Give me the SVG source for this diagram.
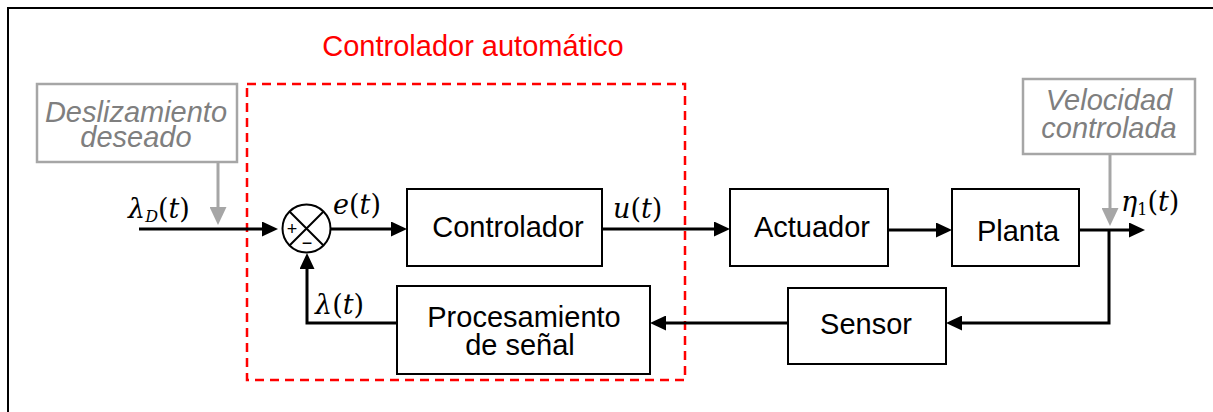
<svg xmlns="http://www.w3.org/2000/svg" width="1213" height="412" viewBox="0 0 1213 412">
<style>
.box{fill:#fff;stroke:#000;stroke-width:2}
.gbox{fill:#fff;stroke:#a6a6a6;stroke-width:2.5}
.lbl{font-family:"Liberation Sans",Arial,sans-serif;font-size:29px;fill:#000;text-anchor:middle}
.glbl{font-family:"Liberation Sans",Arial,sans-serif;font-size:29px;font-style:italic;fill:#7f7f7f;text-anchor:middle}
.math{font-family:"DejaVu Serif","Liberation Serif",serif;font-size:27px;fill:#000}
.conn{fill:none;stroke:#000;stroke-width:3}
.gconn{fill:none;stroke:#a6a6a6;stroke-width:3}
</style>
<defs>
<marker id="arr" markerUnits="userSpaceOnUse" markerWidth="16" markerHeight="15" refX="4" refY="7.5" orient="auto">
<path d="M0,0 L16,7.5 L0,15 z" fill="#000"/>
</marker>
<marker id="garr" markerUnits="userSpaceOnUse" markerWidth="18" markerHeight="17" refX="5" refY="8.5" orient="auto">
<path d="M0,0 L18,8.5 L0,17 z" fill="#a6a6a6"/>
</marker>
</defs>
<rect x="0" y="0" width="1213" height="412" fill="#fff"/>
<rect x="8" y="8" width="1300" height="500" fill="none" stroke="#000" stroke-width="2"/>

<g id="automatic-controller">
<rect x="247" y="84" width="438" height="296" fill="none" stroke="#ff0000" stroke-width="2.5" stroke-dasharray="9,6"/>
<text x="473" y="56" font-family="Liberation Sans,Arial,sans-serif" font-size="29" fill="#ff0000" text-anchor="middle">Controlador automático</text>
</g>

<g id="desired-slip">
<rect class="gbox" x="37" y="84" width="200" height="78"/>
<text class="glbl" x="136" y="122">Deslizamiento</text>
<text class="glbl" x="136" y="147">deseado</text>
</g>

<g id="controlled-speed">
<rect class="gbox" x="1023" y="79" width="172" height="75"/>
<text class="glbl" x="1109" y="110">Velocidad</text>
<text class="glbl" x="1109" y="138">controlada</text>
</g>

<g id="summing-junction">
<circle cx="306.5" cy="228.5" r="24" fill="#fff" stroke="#000" stroke-width="2"/>
<path d="M289.5,211.5 L323.5,245.5 M323.5,211.5 L289.5,245.5" stroke="#000" stroke-width="2" fill="none"/>
<text x="292" y="235" font-family="Liberation Sans,Arial,sans-serif" font-size="18" text-anchor="middle">+</text>
<text x="307" y="249" font-family="Liberation Sans,Arial,sans-serif" font-size="18" text-anchor="middle">−</text>
</g>

<g id="controlador">
<rect class="box" x="407" y="189" width="195" height="77"/>
<text class="lbl" x="508" y="237">Controlador</text>
</g>

<g id="actuador">
<rect class="box" x="730" y="189" width="158" height="77"/>
<text class="lbl" x="812" y="237">Actuador</text>
</g>

<g id="planta">
<rect class="box" x="952" y="189" width="127" height="77"/>
<text class="lbl" x="1018" y="241">Planta</text>
</g>

<g id="sensor">
<rect class="box" x="788" y="288" width="158" height="76"/>
<text class="lbl" x="866" y="334">Sensor</text>
</g>

<g id="procesamiento">
<rect class="box" x="397" y="286" width="253" height="88"/>
<text class="lbl" x="524" y="327">Procesamiento</text>
<text class="lbl" x="520" y="355">de señal</text>
</g>

<g id="connectors">
<path class="conn" d="M139,229 H266" marker-end="url(#arr)"/>
<path class="conn" d="M330,229 H395" marker-end="url(#arr)"/>
<path class="conn" d="M602,229 H718" marker-end="url(#arr)"/>
<path class="conn" d="M888,230 H940" marker-end="url(#arr)"/>
<path class="conn" d="M1079,230 H1133" marker-end="url(#arr)"/>
<path class="conn" d="M1109,230 V323 H958" marker-end="url(#arr)"/>
<path class="conn" d="M788,323 H662" marker-end="url(#arr)"/>
<path class="conn" d="M397,323 H307 V265" marker-end="url(#arr)"/>
<path class="gconn" d="M218,162 V212" marker-end="url(#garr)"/>
<path class="gconn" d="M1110,154 V213" marker-end="url(#garr)"/>
</g>

<g id="labels">
<text class="math" x="128" y="218"><tspan font-style="italic">λ</tspan><tspan font-style="italic" font-size="16" dy="4">D</tspan><tspan dy="-4">(</tspan><tspan font-style="italic">t</tspan>)</text>
<text class="math" x="333" y="214"><tspan font-style="italic">e</tspan>(<tspan font-style="italic">t</tspan>)</text>
<text class="math" x="613" y="218"><tspan font-style="italic">u</tspan>(<tspan font-style="italic">t</tspan>)</text>
<text class="math" x="1121" y="211"><tspan font-style="italic">η</tspan><tspan font-size="16" dy="4">1</tspan><tspan dy="-4">(</tspan><tspan font-style="italic">t</tspan>)</text>
<text class="math" x="315" y="314"><tspan font-style="italic">λ</tspan>(<tspan font-style="italic">t</tspan>)</text>
</g>
</svg>
